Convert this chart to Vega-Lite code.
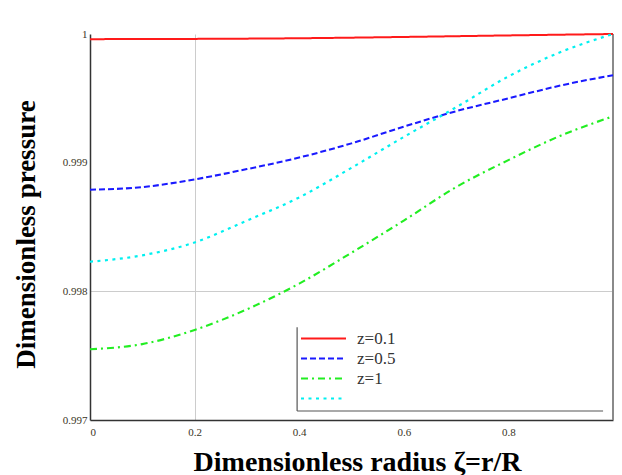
{
  "$schema": "https://vega.github.io/schema/vega-lite/v6.json",
  "width": 523,
  "height": 386,
  "autosize": {"type": "none"},
  "padding": {"left": 90, "top": 34, "right": 9, "bottom": 55},
  "background": "white",
  "config": {"view": {"stroke": null}, "font": "Liberation Serif"},
  "datasets": {
    "curves": [
      {"r": 0, "p": 0.99996, "s": "z=0.1"},
      {"r": 0.2, "p": 0.999962, "s": "z=0.1"},
      {"r": 0.4, "p": 0.999967, "s": "z=0.1"},
      {"r": 0.6, "p": 0.999977, "s": "z=0.1"},
      {"r": 0.8, "p": 0.999989, "s": "z=0.1"},
      {"r": 1.0, "p": 1.0, "s": "z=0.1"},
      {"r": 0, "p": 0.99879, "s": "z=0.5"},
      {"r": 0.1, "p": 0.99881, "s": "z=0.5"},
      {"r": 0.2, "p": 0.99887, "s": "z=0.5"},
      {"r": 0.3, "p": 0.99895, "s": "z=0.5"},
      {"r": 0.4, "p": 0.99904, "s": "z=0.5"},
      {"r": 0.5, "p": 0.99915, "s": "z=0.5"},
      {"r": 0.6, "p": 0.99928, "s": "z=0.5"},
      {"r": 0.7, "p": 0.9994, "s": "z=0.5"},
      {"r": 0.8, "p": 0.9995, "s": "z=0.5"},
      {"r": 0.9, "p": 0.9996, "s": "z=0.5"},
      {"r": 1.0, "p": 0.99968, "s": "z=0.5"},
      {"r": 0, "p": 0.99755, "s": "z=1"},
      {"r": 0.1, "p": 0.99759, "s": "z=1"},
      {"r": 0.2, "p": 0.9977, "s": "z=1"},
      {"r": 0.3, "p": 0.99786, "s": "z=1"},
      {"r": 0.4, "p": 0.99806, "s": "z=1"},
      {"r": 0.5, "p": 0.9983, "s": "z=1"},
      {"r": 0.6, "p": 0.99855, "s": "z=1"},
      {"r": 0.7, "p": 0.99881, "s": "z=1"},
      {"r": 0.8, "p": 0.99902, "s": "z=1"},
      {"r": 0.9, "p": 0.99921, "s": "z=1"},
      {"r": 1.0, "p": 0.99936, "s": "z=1"},
      {"r": 0, "p": 0.99823, "s": " "},
      {"r": 0.1, "p": 0.99828, "s": " "},
      {"r": 0.2, "p": 0.99838, "s": " "},
      {"r": 0.3, "p": 0.99855, "s": " "},
      {"r": 0.4, "p": 0.99873, "s": " "},
      {"r": 0.5, "p": 0.99896, "s": " "},
      {"r": 0.6, "p": 0.9992, "s": " "},
      {"r": 0.7, "p": 0.99943, "s": " "},
      {"r": 0.8, "p": 0.99967, "s": " "},
      {"r": 0.9, "p": 0.99986, "s": " "},
      {"r": 1.0, "p": 1.0, "s": " "}
    ],
    "edge": [{"r": 1}],
    "legendFrame": [
      {"x1": 0.396, "x2": 0.396, "y1": 0.99707, "y2": 0.99772},
      {"x1": 0.396, "x2": 0.981, "y1": 0.99707, "y2": 0.99707}
    ]
  },
  "layer": [
    {
      "data": {"name": "edge"},
      "mark": {"type": "rule", "color": "#8a8a8a", "strokeWidth": 2},
      "encoding": {"x": {"field": "r", "type": "quantitative", "scale": {"domain": [0, 1]}}}
    },
    {
      "data": {"name": "legendFrame"},
      "mark": {"type": "rule", "color": "#555555", "strokeWidth": 1.2},
      "encoding": {
        "x": {"field": "x1", "type": "quantitative"},
        "x2": {"field": "x2"},
        "y": {"field": "y1", "type": "quantitative"},
        "y2": {"field": "y2"}
      }
    },
    {
      "data": {"name": "curves"},
      "mark": {"type": "line", "interpolate": "monotone", "strokeCap": "butt"},
      "encoding": {
        "x": {
          "field": "r", "type": "quantitative",
          "scale": {"domain": [0, 1], "nice": false, "zero": false},
          "axis": {
            "values": [0, 0.2, 0.4, 0.6, 0.8],
            "labelExpr": "datum.value == 0 ? '0' : format(datum.value, '.1f')",
            "title": "Dimensionless radius ζ=r/R",
            "titleFontSize": 28, "titleFontWeight": "bold", "titleColor": "#000000",
            "titleFont": "Liberation Serif",
            "titleX": 267, "titleY": 50, "titleBaseline": "alphabetic", "titleAnchor": "middle",
            "labelFontSize": 11, "labelColor": "#3a3526", "labelPadding": 6, "labelFont": "Liberation Serif",
            "ticks": false, "domainColor": "#333333", "domainWidth": 1.5,
            "grid": true,
            "gridColor": "#cccccc",
            "gridOpacity": {"condition": {"test": "abs(datum.value - 0.2) < 1e-6", "value": 1}, "value": 0}
          }
        },
        "y": {
          "field": "p", "type": "quantitative",
          "scale": {"domain": [0.997, 1.0], "nice": false, "zero": false},
          "axis": {
            "values": [0.997, 0.998, 0.999, 1.0],
            "labelExpr": "datum.value > 0.99999 ? '1' : format(datum.value, '.3f')",
            "title": "Dimensionless pressure",
            "titleFontSize": 27, "titleFontWeight": "bold", "titleColor": "#000000",
            "titleFont": "Liberation Serif",
            "titleX": -56, "titleY": 200, "titleBaseline": "alphabetic", "titleAngle": -90, "titleAnchor": "middle",
            "labelFontSize": 11, "labelColor": "#3a3526", "labelPadding": 3, "labelFont": "Liberation Serif",
            "ticks": false, "domainColor": "#333333", "domainWidth": 1.5,
            "grid": true,
            "gridColor": "#cccccc",
            "gridOpacity": {"condition": {"test": "abs(datum.value - 0.998) < 1e-6", "value": 1}, "value": 0}
          }
        },
        "color": {
          "field": "s", "type": "nominal",
          "scale": {"domain": ["z=0.1", "z=0.5", "z=1", " "], "range": ["#ff1a1a", "#1a1aff", "#22ee22", "#00f0f0"]},
          "legend": {
            "orient": "none", "legendX": 225, "legendY": 296,
            "title": null, "symbolType": "M-4.5,0H4.5", "symbolSize": 100,
            "symbolStrokeWidth": 2.5, "symbolFillColor": "transparent",
            "labelFontSize": 17, "labelColor": "#333333", "labelFont": "Liberation Serif",
            "padding": 0, "rowPadding": 2, "labelOffset": 25
          }
        },
        "strokeDash": {
          "field": "s", "type": "nominal",
          "scale": {"domain": ["z=0.1", "z=0.5", "z=1", " "], "range": [[1, 0], [6, 3], [7, 4, 2, 4], [3, 4.5]]},
          "legend": {
            "orient": "none", "legendX": 225, "legendY": 296,
            "title": null, "symbolType": "M-4.5,0H4.5", "symbolSize": 100,
            "symbolStrokeWidth": 2.5, "symbolFillColor": "transparent",
            "labelFontSize": 17, "labelColor": "#333333", "labelFont": "Liberation Serif",
            "padding": 0, "rowPadding": 2, "labelOffset": 25
          }
        },
        "strokeWidth": {
          "field": "s", "type": "nominal",
          "scale": {"domain": ["z=0.1", "z=0.5", "z=1", " "], "range": [2, 2.2, 2.2, 4]},
          "legend": null
        }
      }
    }
  ]
}
